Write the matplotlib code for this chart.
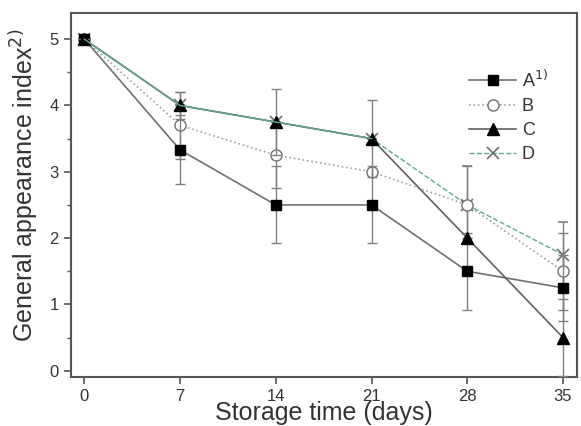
import numpy as np
import matplotlib.pyplot as plt

plt.rcParams['font.family'] = ['Liberation Sans', 'DejaVu Sans']

days = [0, 7, 14, 21, 28, 35]

a_vals = [5, 3.33, 2.5, 2.5, 1.5, 1.25]
a_err = [0, 0.52, 0.58, 0.58, 0.58, 0.5]
b_vals = [5, 3.7, 3.25, 3.0, 2.5, 1.5]
b_err = [0, 0.5, 0.5, 0, 0.58, 0.58]
c_vals = [5, 4.0, 3.75, 3.5, 2.0, 0.5]
c_err = [0, 0.2, 0.5, 0.58, 0, 0.58]
d_vals = [5, 4.0, 3.75, 3.5, 2.5, 1.75]
d_err = [0, 0, 0, 0, 0.58, 0.5]

fig = plt.figure(figsize=(5.81, 4.26), dpi=100)
ax = fig.add_axes([0.1217, 0.1157, 0.8709, 0.8531])

ebar = dict(ecolor='#808080', elinewidth=1.0, capsize=3.5, capthick=1.0)

ax.errorbar(days, d_vals, yerr=d_err, color='#5fa89a', ls='--', lw=1.0,
            marker='x', ms=8, mec='#707070', mew=1.2, label='D', zorder=2, **ebar)
ax.errorbar(days, b_vals, yerr=b_err, color='#a0a0a0', ls=':', lw=1.2,
            marker='o', ms=8, mfc='white', mec='#707070', mew=1.0, label='B', zorder=3, **ebar)
ax.errorbar(days, a_vals, yerr=a_err, color='#707070', ls='-', lw=1.2,
            marker='s', ms=7.5, mfc='black', mec='black', label='A$^{1)}$', zorder=4, **ebar)
ax.errorbar(days, c_vals, yerr=c_err, color='#606060', ls='-', lw=1.2,
            marker='^', ms=9, mfc='black', mec='black', label='C', zorder=5, **ebar)

# the teal dashes of D sit on top of C's line up to day 21
ax.plot(days[:4], d_vals[:4], color='#5fa89a', ls='-', lw=1.0, zorder=6)

ax.set_xlim(-1, 36)
ax.set_ylim(-0.09, 5.39)
ax.set_xticks(days)
ax.set_yticks([0, 1, 2, 3, 4, 5])
ax.set_yticks(np.arange(0.5, 5, 1), minor=True)

for s in ax.spines.values():
    s.set_color('#555555')
    s.set_linewidth(1.5)
ax.tick_params(direction='out', length=5, width=1.2, color='#555555',
               labelsize=12, labelcolor='#333333', top=False, right=False)
ax.tick_params(which='minor', direction='out', length=3, width=1.0, color='#555555')

ax.set_xlabel('Storage time (days)', fontsize=18, color='#333333')
ax.xaxis.set_label_coords(0.5, -0.066)
ax.set_ylabel('General appearance index$^{2)}$', fontsize=18, color='#333333')
ax.yaxis.set_label_coords(-0.058, 0.527)

handles, labels = ax.get_legend_handles_labels()
order = [labels.index(l) for l in ['A$^{1)}$', 'B', 'C', 'D']]
h = [handles[i][0] for i in order]
ax.legend(h, [labels[i] for i in order], loc='upper right', bbox_to_anchor=(0.975, 0.89),
          frameon=False, fontsize=13, handlelength=2.6, labelspacing=0.4,
          handletextpad=0.3, labelcolor='#333333')

fig.savefig('out.png', dpi=100)
